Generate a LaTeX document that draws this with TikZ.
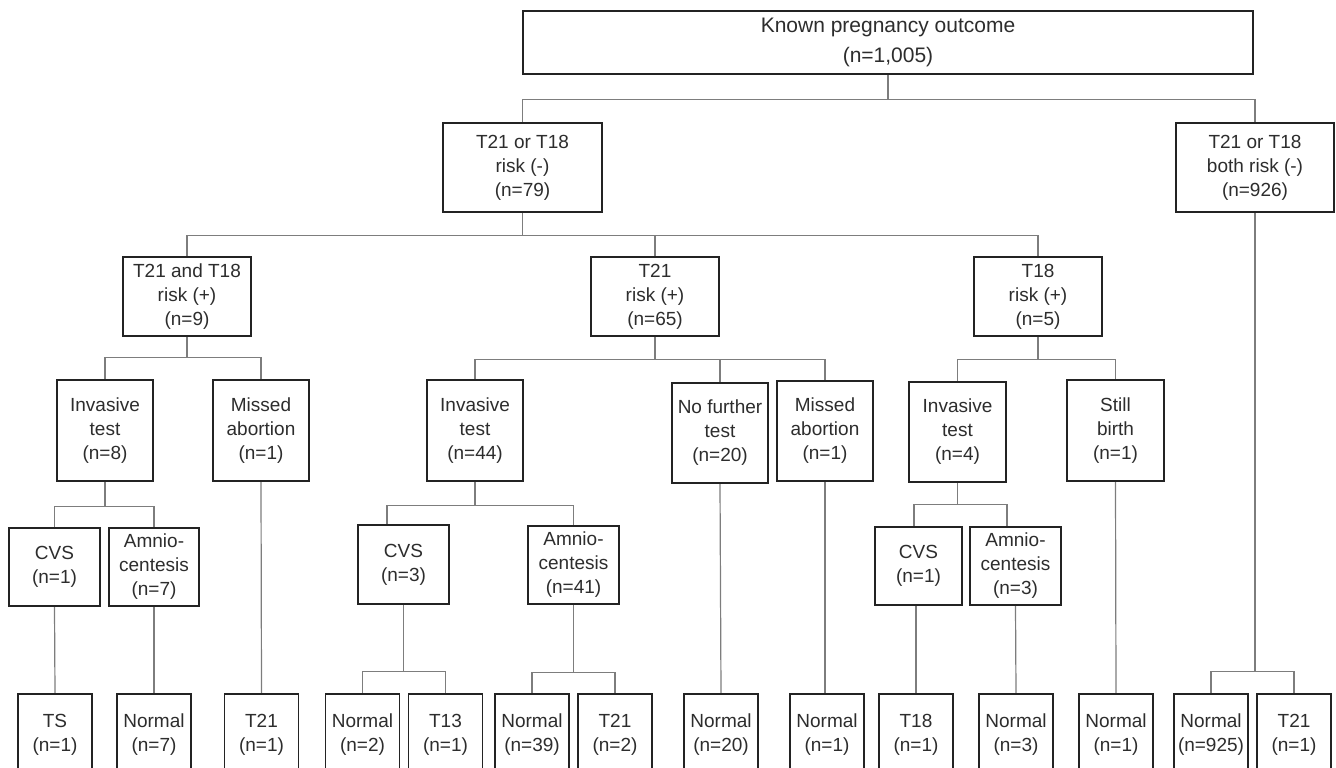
\documentclass[tikz,border=0pt]{standalone}
\usepackage{fontspec}
\setmainfont{Liberation Sans}
\usetikzlibrary{backgrounds}
\definecolor{boxline}{RGB}{35,35,35}
\definecolor{conn}{RGB}{125,125,125}
\definecolor{txt}{RGB}{45,45,45}
\tikzset{
  box/.style={draw=boxline, line width=1.5pt, fill=white, text=txt, align=center,
    inner sep=0pt, font=\fontsize{19}{24}\selectfont},
  bigbox/.style={box, font=\fontsize{21}{30}\selectfont},
  low/.style={box, anchor=north, minimum height=82pt},
  link/.style={draw=conn, line width=1.2pt},
}
\begin{document}
\begin{tikzpicture}[x=1pt,y=-1pt]
\useasboundingbox (0,0) rectangle (1336,768);
\clip (0,0) rectangle (1336,768);
% level 0
\node[bigbox, minimum width=730pt, minimum height=63pt] (root) at (888,42.5) {Known pregnancy outcome\\(n=1,005)};
% level 1
\node[box, minimum width=159pt, minimum height=89pt] (n79) at (522.5,167.5) {T21 or T18\\risk (-)\\(n=79)};
\node[box, minimum width=158pt, minimum height=89pt] (n926) at (1255,167.5) {T21 or T18\\both risk (-)\\(n=926)};
% level 2
\node[box, minimum width=128pt, minimum height=79pt] (n9) at (187,296.5) {T21 and T18\\risk (+)\\(n=9)};
\node[box, minimum width=128pt, minimum height=79pt] (n65) at (655,296.5) {T21\\risk (+)\\(n=65)};
\node[box, minimum width=128pt, minimum height=79pt] (n5) at (1038,296.5) {T18\\risk (+)\\(n=5)};
% level 3
\node[box, minimum width=96pt, minimum height=101pt] (inv8) at (105,430.5) {Invasive\\test\\(n=8)};
\node[box, minimum width=96pt, minimum height=101pt] (miss9) at (261,430.5) {Missed\\abortion\\(n=1)};
\node[box, minimum width=96pt, minimum height=101pt] (inv44) at (475,430.5) {Invasive\\test\\(n=44)};
\node[box, minimum width=96pt, minimum height=100pt] (nft) at (720,433) {No further\\test\\(n=20)};
\node[box, minimum width=96pt, minimum height=100pt] (miss65) at (825,431) {Missed\\abortion\\(n=1)};
\node[box, minimum width=97pt, minimum height=100pt] (inv4) at (957.5,432) {Invasive\\test\\(n=4)};
\node[box, minimum width=97pt, minimum height=101pt] (still) at (1115.5,430.5) {Still\\birth\\(n=1)};
% level 4
\node[box, minimum width=91pt, minimum height=78pt] (cvs1a) at (54.5,567) {CVS\\(n=1)};
\node[box, minimum width=90pt, minimum height=78pt] (amn7) at (154,567) {Amnio-\\centesis\\(n=7)};
\node[box, minimum width=91pt, minimum height=79pt] (cvs3) at (403.5,564.5) {CVS\\(n=3)};
\node[box, minimum width=91pt, minimum height=78pt] (amn41) at (573.5,565) {Amnio-\\centesis\\(n=41)};
\node[box, minimum width=87pt, minimum height=78pt] (cvs1b) at (918.5,566) {CVS\\(n=1)};
\node[box, minimum width=91pt, minimum height=78pt] (amn3) at (1015.5,566) {Amnio-\\centesis\\(n=3)};
% level 5 (bottom row, cut by the page edge)
\node[low, minimum width=74pt] (ts) at (55,693) {TS\\(n=1)};
\node[low, minimum width=74pt] (norm7) at (154,693) {Normal\\(n=7)};
\node[low, minimum width=74pt] (t21a) at (261.5,693) {T21\\(n=1)};
\node[low, minimum width=74pt] (norm2) at (362.5,693) {Normal\\(n=2)};
\node[low, minimum width=74pt] (t13) at (445.5,693) {T13\\(n=1)};
\node[low, minimum width=74pt] (norm39) at (532,693) {Normal\\(n=39)};
\node[low, minimum width=74pt] (t21b) at (615,693) {T21\\(n=2)};
\node[low, minimum width=74pt] (norm20) at (721,693) {Normal\\(n=20)};
\node[low, minimum width=74pt] (norm1a) at (827,693) {Normal\\(n=1)};
\node[low, minimum width=74pt] (t18) at (916,693) {T18\\(n=1)};
\node[low, minimum width=74pt] (norm3) at (1016,693) {Normal\\(n=3)};
\node[low, minimum width=74pt] (norm1b) at (1116,693) {Normal\\(n=1)};
\node[low, minimum width=74pt] (norm925) at (1211,693) {Normal\\(n=925)};
\node[low, minimum width=74pt] (t21c) at (1294,693) {T21\\(n=1)};
% junction points (page y grows downward, yshift is in page direction)
\coordinate (j0) at ([yshift=-25pt]root.south);
\coordinate (j1) at ([yshift=-23pt]n79.south);
\coordinate (j2) at ([yshift=-21pt]n9.south);
\coordinate (j3) at ([yshift=-23pt]n65.south);
\coordinate (j4) at ([yshift=-23pt]n5.south);
\coordinate (j5) at ([yshift=-25pt]inv8.south);
\coordinate (j6) at ([yshift=-24pt]inv44.south);
\coordinate (j7) at ([yshift=-22pt]inv4.south);
\coordinate (j8) at ([yshift=-67pt]cvs3.south);
\coordinate (j9) at ([yshift=-68pt]amn41.south);
\coordinate (j10) at ([yshift=-459pt]n926.south);
% connectors
\begin{scope}[on background layer]
\draw[link] (root.south) -- (j0);
\draw[link] (n79.north) |- (j0) -| (n926.north);
\draw[link] (n79.south) -- (j1);
\draw[link] (n9.north) |- (j1) -| (n5.north);
\draw[link] (n65.north) -- (n65.north |- j1);
\draw[link] (n9.south) -- (j2);
\draw[link] (inv8.north) |- (j2) -| (miss9.north);
\draw[link] (n65.south) -- (j3);
\draw[link] (inv44.north) |- (j3) -| (miss65.north);
\draw[link] (nft.north) -- (nft.north |- j3);
\draw[link] (n5.south) -- (j4);
\draw[link] (inv4.north) |- (j4) -| (still.north);
\draw[link] (inv8.south) -- (j5);
\draw[link] (cvs1a.north) |- (j5) -| (amn7.north);
\draw[link] (inv44.south) -- (j6);
\draw[link] ([xshift=-16.5pt]cvs3.north) |- (j6) -| (amn41.north);
\draw[link] (inv4.south) -- (j7);
\draw[link] ([xshift=-4.5pt]cvs1b.north) |- (j7) -| ([xshift=-8.5pt]amn3.north);
\draw[link] (cvs1a.south) -- (ts.north);
\draw[link] (amn7.south) -- (norm7.north);
\draw[link] (miss9.south) -- (t21a.north);
\draw[link] (cvs3.south) -- (j8);
\draw[link] (norm2.north) |- (j8) -| (t13.north);
\draw[link] (amn41.south) -- (j9);
\draw[link] (norm39.north) |- (j9) -| (t21b.north);
\draw[link] (nft.south) -- (norm20.north);
\draw[link] (miss65.south) -- (miss65.south |- norm1a.north);
\draw[link] (t18.north) -- (t18.north |- cvs1b.south);
\draw[link] (amn3.south) -- (norm3.north);
\draw[link] (still.south) -- (norm1b.north);
\draw[link] (n926.south) -- (j10);
\draw[link] (norm925.north) |- (j10) -| (t21c.north);
\end{scope}
\end{tikzpicture}
\end{document}
